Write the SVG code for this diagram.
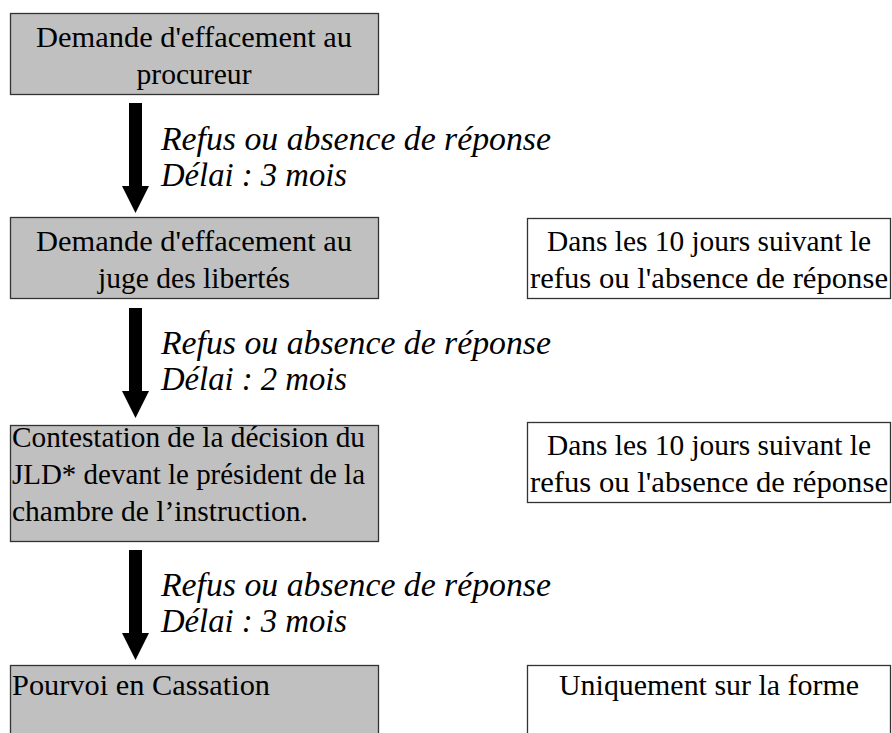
<svg xmlns="http://www.w3.org/2000/svg" width="892" height="733" viewBox="0 0 892 733">
<defs>
<style>
.g{fill:#c0c0c0;stroke:#333;stroke-width:1.3}
.w{fill:#fff;stroke:#333;stroke-width:1.3}
text{font-family:"Liberation Serif","Times New Roman",serif;fill:#000}
.t{font-size:30px}
.c{text-anchor:middle}
.i{font-size:34px;font-style:italic}
.a{fill:#000}
</style>
</defs>
<rect width="892" height="733" fill="#fff"/>
<g id="n1">
<rect class="g" x="10.5" y="13.5" width="368" height="81"/>
<text class="t c" x="194" y="47" textLength="316" lengthAdjust="spacingAndGlyphs">Demande d'effacement au</text>
<text class="t c" x="194" y="84" textLength="115" lengthAdjust="spacingAndGlyphs">procureur</text>
</g>
<g id="n2">
<rect class="g" x="10.5" y="217.5" width="368" height="81"/>
<text class="t c" x="194" y="251" textLength="316" lengthAdjust="spacingAndGlyphs">Demande d'effacement au</text>
<text class="t c" x="194" y="288" textLength="192" lengthAdjust="spacingAndGlyphs">juge des libertés</text>
</g>
<g id="r1">
<rect class="w" x="527.5" y="218.5" width="363" height="80"/>
<text class="t c" x="709" y="251" textLength="324" lengthAdjust="spacingAndGlyphs">Dans les 10 jours suivant le</text>
<text class="t c" x="709" y="288" textLength="358" lengthAdjust="spacingAndGlyphs">refus ou l'absence de réponse</text>
</g>
<g id="n3">
<rect class="g" x="10.5" y="425.5" width="368" height="116"/>
<text class="t" x="12" y="447" textLength="353" lengthAdjust="spacingAndGlyphs">Contestation de la décision du</text>
<text class="t" x="12" y="484" textLength="353" lengthAdjust="spacingAndGlyphs">JLD* devant le président de la</text>
<text class="t" x="12" y="521" textLength="296" lengthAdjust="spacingAndGlyphs">chambre de l’instruction.</text>
</g>
<g id="r2">
<rect class="w" x="527.5" y="422.5" width="363" height="80"/>
<text class="t c" x="709" y="455" textLength="324" lengthAdjust="spacingAndGlyphs">Dans les 10 jours suivant le</text>
<text class="t c" x="709" y="492" textLength="358" lengthAdjust="spacingAndGlyphs">refus ou l'absence de réponse</text>
</g>
<g id="n4">
<rect class="g" x="10.5" y="665.5" width="368" height="80"/>
<text class="t" x="12" y="695" textLength="258" lengthAdjust="spacingAndGlyphs">Pourvoi en Cassation</text>
</g>
<g id="r3">
<rect class="w" x="527.5" y="665.5" width="363" height="80"/>
<text class="t c" x="709" y="695" textLength="300" lengthAdjust="spacingAndGlyphs">Uniquement sur la forme</text>
</g>
<g id="connectors">
<path class="a" d="M129 103H142V186H149L135.5 213L122 186H129Z"/>
<path class="a" d="M129 308H142V391H149L135.5 418L122 391H129Z"/>
<path class="a" d="M129 550H142V633H149L135.5 660L122 633H129Z"/>
<text class="i" x="161" y="150" textLength="390" lengthAdjust="spacingAndGlyphs">Refus ou absence de réponse</text>
<text class="i" x="161" y="186" textLength="186" lengthAdjust="spacingAndGlyphs">Délai : 3 mois</text>
<text class="i" x="161" y="354" textLength="390" lengthAdjust="spacingAndGlyphs">Refus ou absence de réponse</text>
<text class="i" x="161" y="390" textLength="186" lengthAdjust="spacingAndGlyphs">Délai : 2 mois</text>
<text class="i" x="161" y="596" textLength="390" lengthAdjust="spacingAndGlyphs">Refus ou absence de réponse</text>
<text class="i" x="161" y="632" textLength="186" lengthAdjust="spacingAndGlyphs">Délai : 3 mois</text>
</g>
</svg>
